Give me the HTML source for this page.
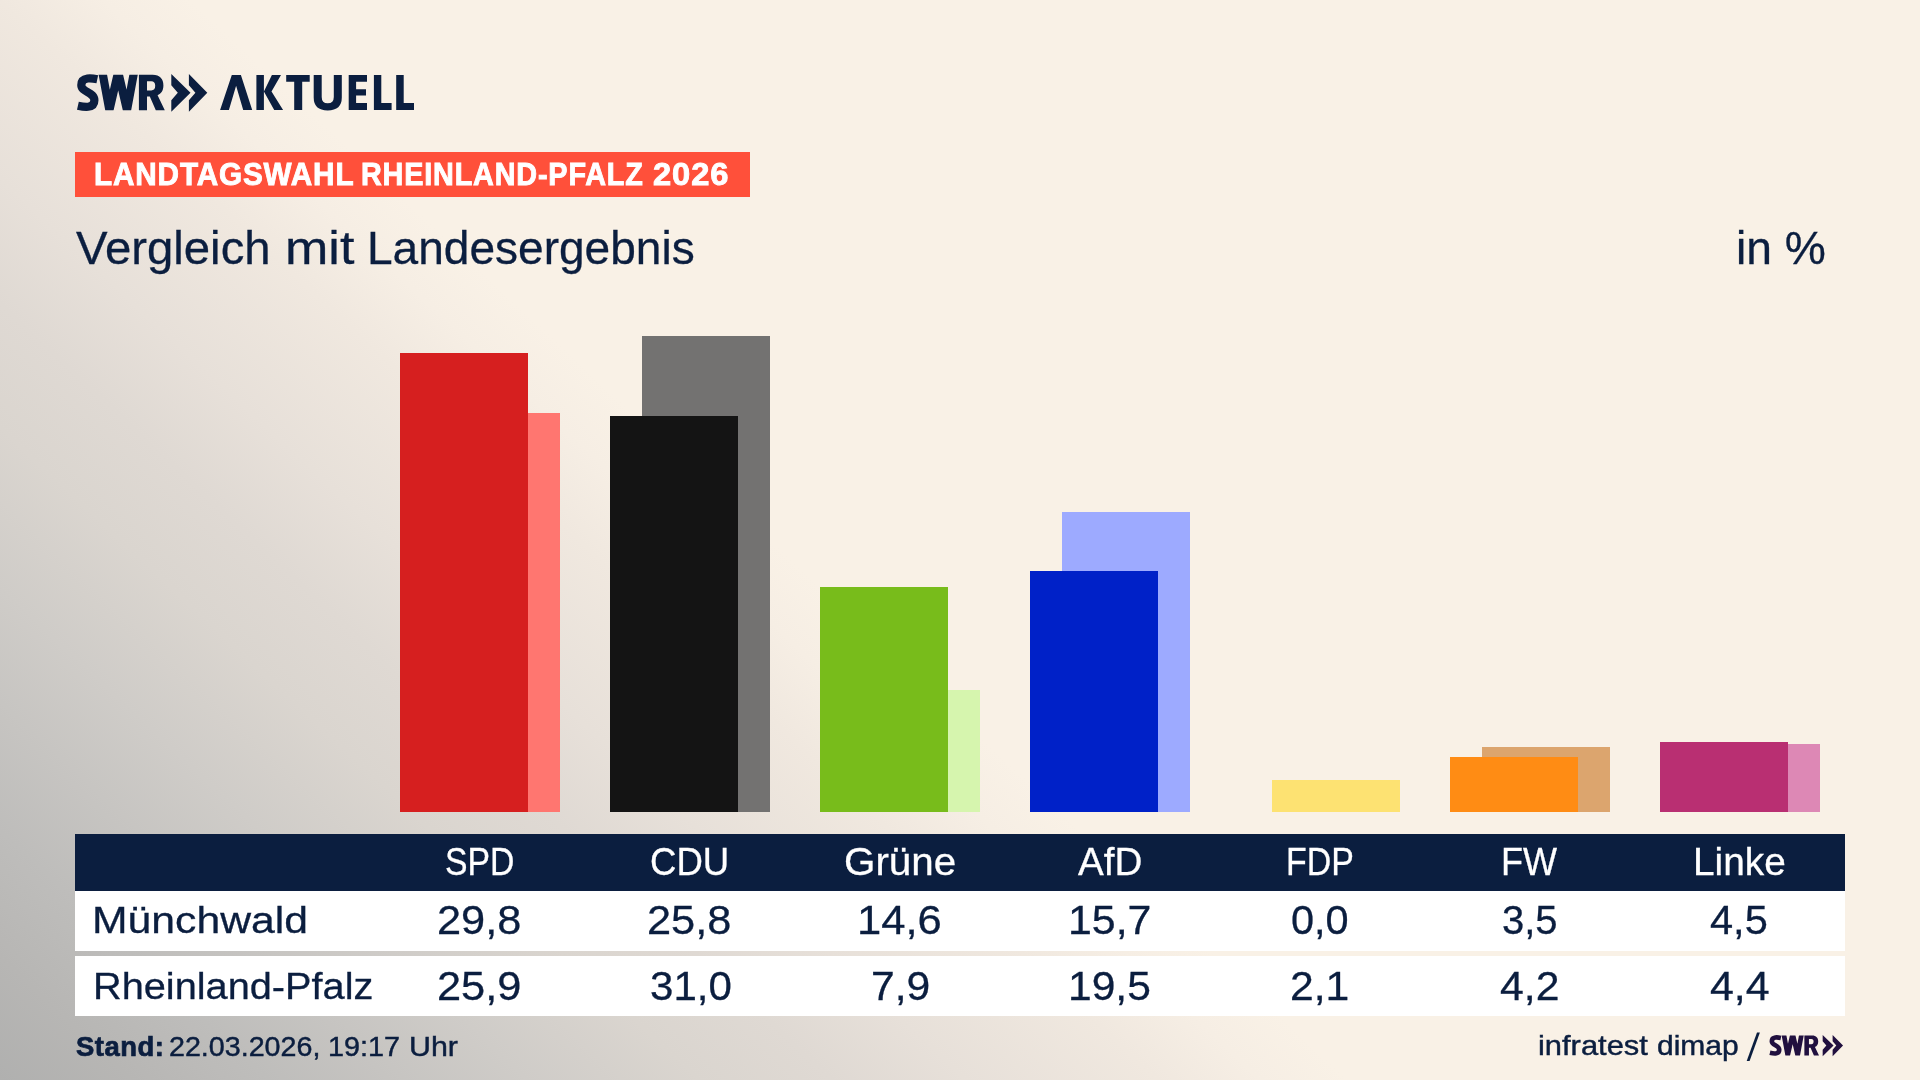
<!DOCTYPE html>
<html lang="de"><head><meta charset="utf-8"><title>Landtagswahl Rheinland-Pfalz 2026</title>
<style>
html,body{margin:0;padding:0}
body{width:1920px;height:1080px;overflow:hidden;position:relative;font-family:"Liberation Sans",sans-serif;
background:#f9f1e6;}
.t{position:absolute;white-space:pre;line-height:1;transform-origin:0 0}
.b{position:absolute;width:128px}
#txt{position:absolute;left:0;top:0;width:1920px;height:1080px;will-change:transform}
.r{position:absolute;left:75px;width:1770px}
svg{position:absolute;overflow:visible}
#bg{position:absolute;left:0;top:0;width:1920px;height:1080px;background:linear-gradient(43deg,#b0b0af 0px,#b7b6b4 90px,#bebdbb 183px,#cfccc8 360px,#dad5cf 477px,#dfd9d3 568px,#e7e0d9 659px,#f0e8df 790px,#f6eee4 860px,#f9f1e6 920px)}
</style></head><body>
<div id="bg"></div>
<svg width="1920" height="130" viewBox="0 0 1920 130" style="left:0;top:0" fill="#0b1e3f">
<defs><clipPath id="wc1"><rect x="90" y="74.8" width="60" height="35.4"/></clipPath></defs>
<g style="color:#0b1e3f" clip-path="none">
<path d="M97.3 79.3 C92.5 78.3 81.3 76.4 81.3 85 C81.3 92.8 94.4 91.6 94.4 100.3 C94.4 109.2 83.2 106.9 77.9 105.7" fill="none" stroke="#0b1e3f" stroke-width="8.2"/>
<polyline points="101.6,68 109.4,110 118.2,72 127,110 134.8,68" fill="none" stroke="#0b1e3f" stroke-width="8.3" stroke-linejoin="miter" stroke-miterlimit="10" clip-path="url(#wc1)"/>
<path fill="#0b1e3f" fill-rule="evenodd" d="M138.9 74.8 H152.6 C160 74.8 163.4 79 163.4 85.4 C163.4 90.4 161.2 93.6 157.6 95.2 L164.8 110.2 H155.8 L149.8 96.6 H147 V110.2 H138.9 Z M147 81.2 V90.4 H151.2 C154 90.4 155.2 88.6 155.2 85.7 C155.2 82.8 154 81.2 151.2 81.2 Z"/>
<path fill="#0b1e3f" d="M171.3 73.9 L190.5 92.8 L171.3 111.8 L171.3 100.3 L177.8 92.8 L171.3 85.3Z"/>
<path fill="#0b1e3f" d="M188.9 73.9 L207.3 92.8 L188.9 111.8 L188.9 100.3 L195.4 92.8 L188.9 85.3Z"/>
</g>
<path d="M220.1 109.9 L231.8 74.9 L240.9 74.9 L252.2 109.9 L243.2 109.9 L236.1 85.8 L228.9 109.9Z"/>
<path d="M256.4 74.9 H263.9 V109.9 H256.4Z M263.9 91.5 L271.9 74.9 L281 74.9 L271.5 91.5 L283.1 109.9 L274.2 109.9Z"/>
<path d="M286.2 74.9 H309.7 V81.8 H302.2 V109.9 H294.2 V81.8 H286.2Z"/>
<path d="M313.7 74.9 H321.7 V97 Q321.7 103.3 327.7 103.3 Q333.8 103.3 333.8 97 V74.9 H341.8 V97.5 Q341.8 110.4 327.7 110.4 Q313.7 110.4 313.7 97.5Z"/>
<path d="M348.7 74.9 H367 V81.8 H356.1 V89.2 H366 V95.5 H356.1 V103 H367 V109.9 H348.7Z"/>
<path d="M373.9 74.9 H381.3 V103 H391.6 V109.9 H373.9Z"/>
<path d="M396.2 74.9 H403.7 V103 H414 V109.9 H396.2Z"/>
</svg>
<div class="r" style="top:152px;width:675px;height:45px;background:#ff503a"></div>
<div class="b" style="left:432px;top:413px;height:399px;background:#ff7670"></div><div class="b" style="left:400px;top:353px;height:459px;background:#d61f1f"></div><div class="b" style="left:642px;top:336px;height:476px;background:#737271"></div><div class="b" style="left:610px;top:416px;height:396px;background:#141414"></div><div class="b" style="left:852px;top:690px;height:122px;background:#d6f5ae"></div><div class="b" style="left:820px;top:587px;height:225px;background:#78bc1b"></div><div class="b" style="left:1062px;top:512px;height:300px;background:#9daaff"></div><div class="b" style="left:1030px;top:571px;height:241px;background:#0021c8"></div><div class="b" style="left:1272px;top:780px;height:32px;background:#fde272"></div><div class="b" style="left:1482px;top:747px;height:65px;background:#dca56e"></div><div class="b" style="left:1450px;top:757px;height:55px;background:#ff8c14"></div><div class="b" style="left:1692px;top:744px;height:68px;background:#dd88b5"></div><div class="b" style="left:1660px;top:742px;height:70px;background:#b92f72"></div>
<div class="r" style="top:834px;height:57px;background:#0b1e3f"></div>
<div class="r" style="top:891px;height:60px;background:#fff"></div>
<div class="r" style="top:956px;height:60px;background:#fff"></div>
<div id="txt">
<div class="t" style="left:76.30px;top:224.76px;font-size:46px;font-weight:400;color:#0b1e3f;letter-spacing:0px;-webkit-text-stroke:0.3px #0b1e3f;transform:scaleX(1.0283)">Vergleich</div>
<div class="t" style="left:285.01px;top:224.76px;font-size:46px;font-weight:400;color:#0b1e3f;letter-spacing:0px;-webkit-text-stroke:0.3px #0b1e3f;transform:scaleX(1.1310)">mit</div>
<div class="t" style="left:366.80px;top:224.76px;font-size:46px;font-weight:400;color:#0b1e3f;letter-spacing:0px;-webkit-text-stroke:0.3px #0b1e3f;transform:scaleX(1.0009)">Landesergebnis</div>
<div class="t" style="left:1735.99px;top:225.06px;font-size:46px;font-weight:400;color:#0b1e3f;letter-spacing:0px;-webkit-text-stroke:0.3px #0b1e3f;transform:scaleX(1.0047)">in %</div>
<div class="t" style="left:93.62px;top:159.25px;font-size:31.6px;font-weight:700;color:#ffffff;letter-spacing:0.9px;-webkit-text-stroke:0.9px #ffffff;transform:scaleX(0.9401)">LANDTAGSWAHL</div>
<div class="t" style="left:361.08px;top:159.25px;font-size:31.6px;font-weight:700;color:#ffffff;letter-spacing:0.9px;-webkit-text-stroke:0.9px #ffffff;transform:scaleX(0.9114)">RHEINLAND-PFALZ</div>
<div class="t" style="left:653.17px;top:159.25px;font-size:31.6px;font-weight:700;color:#ffffff;letter-spacing:0.9px;-webkit-text-stroke:0.9px #ffffff;transform:scaleX(1.0333)">2026</div>
<div class="t" style="left:444.92px;top:843.43px;font-size:38px;font-weight:400;color:#ffffff;letter-spacing:0px;-webkit-text-stroke:0.3px #ffffff;transform:scaleX(0.8880)">SPD</div>
<div class="t" style="left:649.78px;top:843.43px;font-size:38px;font-weight:400;color:#ffffff;letter-spacing:0px;-webkit-text-stroke:0.3px #ffffff;transform:scaleX(0.9615)">CDU</div>
<div class="t" style="left:843.58px;top:843.43px;font-size:38px;font-weight:400;color:#ffffff;letter-spacing:0px;-webkit-text-stroke:0.3px #ffffff;transform:scaleX(1.0618)">Grüne</div>
<div class="t" style="left:1078.00px;top:843.43px;font-size:38px;font-weight:400;color:#ffffff;letter-spacing:0px;-webkit-text-stroke:0.3px #ffffff;transform:scaleX(1.0161)">AfD</div>
<div class="t" style="left:1286.42px;top:843.43px;font-size:38px;font-weight:400;color:#ffffff;letter-spacing:0px;-webkit-text-stroke:0.3px #ffffff;transform:scaleX(0.8930)">FDP</div>
<div class="t" style="left:1501.06px;top:843.43px;font-size:38px;font-weight:400;color:#ffffff;letter-spacing:0px;-webkit-text-stroke:0.3px #ffffff;transform:scaleX(0.9482)">FW</div>
<div class="t" style="left:1693.34px;top:843.43px;font-size:38px;font-weight:400;color:#ffffff;letter-spacing:0px;-webkit-text-stroke:0.3px #ffffff;transform:scaleX(1.0207)">Linke</div>
<div class="t" style="left:91.84px;top:902.38px;font-size:37px;font-weight:400;color:#0b1e3f;letter-spacing:0px;-webkit-text-stroke:0.3px #0b1e3f;transform:scaleX(1.1538)">Münchwald</div>
<div class="t" style="left:93.48px;top:968.08px;font-size:37px;font-weight:400;color:#0b1e3f;letter-spacing:0px;-webkit-text-stroke:0.3px #0b1e3f;transform:scaleX(1.0732)">Rheinland-Pfalz</div>
<div class="t" style="left:437.15px;top:901.09px;font-size:40.3px;font-weight:400;color:#0b1e3f;letter-spacing:0px;-webkit-text-stroke:0.3px #0b1e3f;transform:scaleX(1.0760)">29,8</div>
<div class="t" style="left:647.15px;top:901.09px;font-size:40.3px;font-weight:400;color:#0b1e3f;letter-spacing:0px;-webkit-text-stroke:0.3px #0b1e3f;transform:scaleX(1.0760)">25,8</div>
<div class="t" style="left:856.76px;top:901.09px;font-size:40.3px;font-weight:400;color:#0b1e3f;letter-spacing:0px;-webkit-text-stroke:0.3px #0b1e3f;transform:scaleX(1.0811)">14,6</div>
<div class="t" style="left:1067.61px;top:901.09px;font-size:40.3px;font-weight:400;color:#0b1e3f;letter-spacing:0px;-webkit-text-stroke:0.3px #0b1e3f;transform:scaleX(1.0635)">15,7</div>
<div class="t" style="left:1290.87px;top:901.09px;font-size:40.3px;font-weight:400;color:#0b1e3f;letter-spacing:0px;-webkit-text-stroke:0.3px #0b1e3f;transform:scaleX(1.0296)">0,0</div>
<div class="t" style="left:1502.41px;top:901.09px;font-size:40.3px;font-weight:400;color:#0b1e3f;letter-spacing:0px;-webkit-text-stroke:0.3px #0b1e3f;transform:scaleX(0.9926)">3,5</div>
<div class="t" style="left:1710.27px;top:901.09px;font-size:40.3px;font-weight:400;color:#0b1e3f;letter-spacing:0px;-webkit-text-stroke:0.3px #0b1e3f;transform:scaleX(1.0315)">4,5</div>
<div class="t" style="left:437.15px;top:966.69px;font-size:40.3px;font-weight:400;color:#0b1e3f;letter-spacing:0px;-webkit-text-stroke:0.3px #0b1e3f;transform:scaleX(1.0760)">25,9</div>
<div class="t" style="left:649.66px;top:966.69px;font-size:40.3px;font-weight:400;color:#0b1e3f;letter-spacing:0px;-webkit-text-stroke:0.3px #0b1e3f;transform:scaleX(1.0434)">31,0</div>
<div class="t" style="left:870.58px;top:966.69px;font-size:40.3px;font-weight:400;color:#0b1e3f;letter-spacing:0px;-webkit-text-stroke:0.3px #0b1e3f;transform:scaleX(1.0577)">7,9</div>
<div class="t" style="left:1067.63px;top:966.69px;font-size:40.3px;font-weight:400;color:#0b1e3f;letter-spacing:0px;-webkit-text-stroke:0.3px #0b1e3f;transform:scaleX(1.0568)">19,5</div>
<div class="t" style="left:1290.28px;top:966.69px;font-size:40.3px;font-weight:400;color:#0b1e3f;letter-spacing:0px;-webkit-text-stroke:0.3px #0b1e3f;transform:scaleX(1.0596)">2,1</div>
<div class="t" style="left:1500.24px;top:966.69px;font-size:40.3px;font-weight:400;color:#0b1e3f;letter-spacing:0px;-webkit-text-stroke:0.3px #0b1e3f;transform:scaleX(1.0604)">4,2</div>
<div class="t" style="left:1710.24px;top:966.69px;font-size:40.3px;font-weight:400;color:#0b1e3f;letter-spacing:0px;-webkit-text-stroke:0.3px #0b1e3f;transform:scaleX(1.0648)">4,4</div>
<div class="t" style="left:76.25px;top:1032.64px;font-size:27.3px;font-weight:700;color:#0b1e3f;letter-spacing:0.5px;-webkit-text-stroke:0.7px #0b1e3f;transform:scaleX(1.0053)">Stand:</div>
<div class="t" style="left:169.35px;top:1032.73px;font-size:27.2px;font-weight:400;color:#0b1e3f;letter-spacing:0px;-webkit-text-stroke:0.45px #0b1e3f;transform:scaleX(1.0539)">22.03.2026,</div>
<div class="t" style="left:328.28px;top:1032.73px;font-size:27.2px;font-weight:400;color:#0b1e3f;letter-spacing:0px;-webkit-text-stroke:0.45px #0b1e3f;transform:scaleX(1.0585)">19:17</div>
<div class="t" style="left:408.77px;top:1032.73px;font-size:27.2px;font-weight:400;color:#0b1e3f;letter-spacing:0px;-webkit-text-stroke:0.45px #0b1e3f;transform:scaleX(1.1167)">Uhr</div>
<div class="t" style="left:1538.19px;top:1031.90px;font-size:28px;font-weight:400;color:#0b1e3f;letter-spacing:0px;-webkit-text-stroke:0.45px #0b1e3f;transform:scaleX(1.1031)">infratest</div>
<div class="t" style="left:1656.68px;top:1031.90px;font-size:28px;font-weight:400;color:#0b1e3f;letter-spacing:0px;-webkit-text-stroke:0.45px #0b1e3f;transform:scaleX(1.0713)">dimap</div>
</div>
<svg width="1920" height="60" viewBox="0 1020 1920 60" style="left:0;top:1020px">
<defs><clipPath id="wc2"><rect x="90" y="74.8" width="60" height="35.4"/></clipPath></defs>
<g transform="translate(1769.4 1055.4) scale(0.565) translate(-77 -110.2)" style="color:#21103f" clip-path="none">
<path d="M97.3 79.3 C92.5 78.3 81.3 76.4 81.3 85 C81.3 92.8 94.4 91.6 94.4 100.3 C94.4 109.2 83.2 106.9 77.9 105.7" fill="none" stroke="#21103f" stroke-width="8.2"/>
<polyline points="101.6,68 109.4,110 118.2,72 127,110 134.8,68" fill="none" stroke="#21103f" stroke-width="8.3" stroke-linejoin="miter" stroke-miterlimit="10" clip-path="url(#wc2)"/>
<path fill="#21103f" fill-rule="evenodd" d="M138.9 74.8 H152.6 C160 74.8 163.4 79 163.4 85.4 C163.4 90.4 161.2 93.6 157.6 95.2 L164.8 110.2 H155.8 L149.8 96.6 H147 V110.2 H138.9 Z M147 81.2 V90.4 H151.2 C154 90.4 155.2 88.6 155.2 85.7 C155.2 82.8 154 81.2 151.2 81.2 Z"/>
<path fill="#21103f" d="M171.3 73.9 L190.5 92.8 L171.3 111.8 L171.3 100.3 L177.8 92.8 L171.3 85.3Z"/>
<path fill="#21103f" d="M188.9 73.9 L207.3 92.8 L188.9 111.8 L188.9 100.3 L195.4 92.8 L188.9 85.3Z"/>
</g>
<path d="M1746.7 1061 L1749.6 1061 L1759.9 1032.5 L1757 1032.5Z" fill="#0b1e3f"/>
</svg>
</body></html>
